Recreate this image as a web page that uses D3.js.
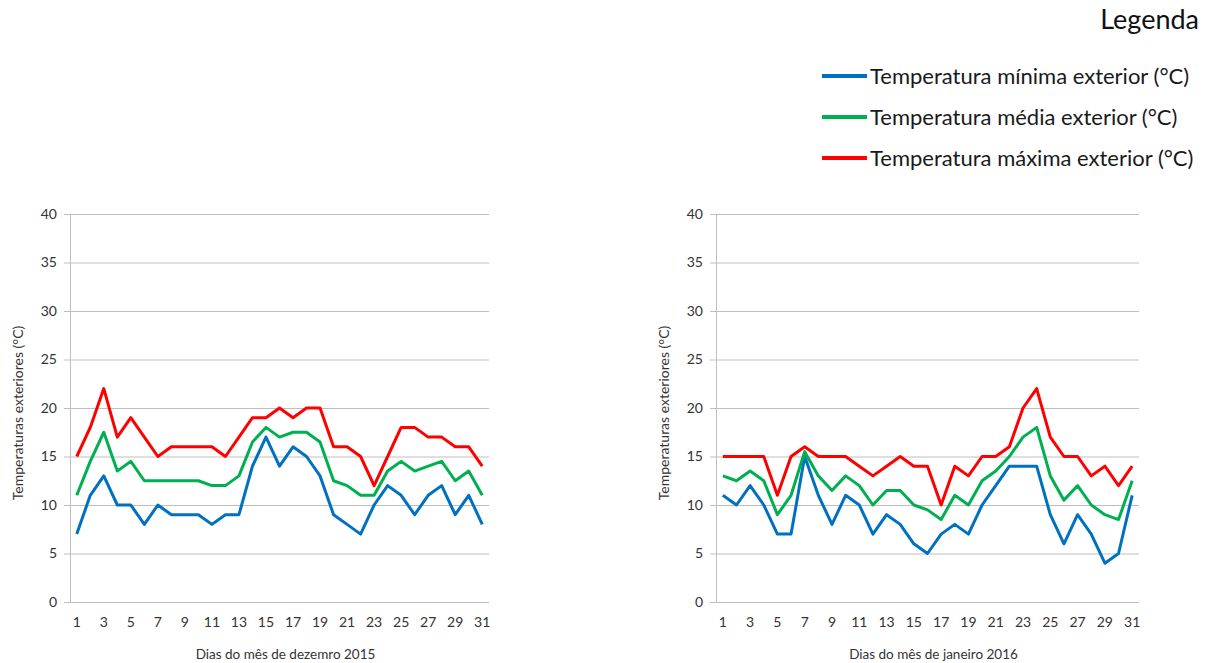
<!DOCTYPE html>
<html><head><meta charset="utf-8">
<script src="https://cdn.jsdelivr.net/npm/d3@7"></script>
<style>body{margin:0;background:#fff}svg{display:block;font-family:Lato,"Open Sans",sans-serif}</style>
</head><body><svg id="c" width="1208" height="663"></svg>
<script>
const days = d3.range(1, 32);
const yTicks = [0, 5, 10, 15, 20, 25, 30, 35, 40];
const xTickLabels = [1,3,5,7,9,11,13,15,17,19,21,23,25,27,29,31];
const seriesNames = ["Temperatura mínima exterior (°C)", "Temperatura média exterior (°C)", "Temperatura máxima exterior (°C)"];
const seriesColors = ["#0070C0", "#00B050", "#FF0000"];

const decMin = [7,11,13,10,10,8,10,9,9,9,8,9,9,14,17,14,16,15,13,9,8,7,10,12,11,9,11,12,9,11,8];
const decAvg = [11,14.5,17.5,13.5,14.5,12.5,12.5,12.5,12.5,12.5,12,12,13,16.5,18,17,17.5,17.5,16.5,12.5,12,11,11,13.5,14.5,13.5,14,14.5,12.5,13.5,11];
const decMax = [15,18,22,17,19,17,15,16,16,16,16,15,17,19,19,20,19,20,20,16,16,15,12,15,18,18,17,17,16,16,14];

const janMin = [11,10,12,10,7,7,15,11,8,11,10,7,9,8,6,5,7,8,7,10,12,14,14,14,9,6,9,7,4,5,11];
const janAvg = [13,12.5,13.5,12.5,9,11,15.5,13,11.5,13,12,10,11.5,11.5,10,9.5,8.5,11,10,12.5,13.5,15,17,18,13,10.5,12,10,9,8.5,12.5];
const janMax = [15,15,15,15,11,15,16,15,15,15,14,13,14,15,14,14,10,14,13,15,15,16,20,22,17,15,15,13,14,12,14];

const yLabel = "Temperaturas exteriores (°C)";
const charts = [
  {x0: 70, x1: 489, title: "Dias do mês de dezemro 2015", data: [decMin, decAvg, decMax]},
  {x0: 716, x1: 1139, title: "Dias do mês de janeiro 2016", data: [janMin, janAvg, janMax]}
];

const svg = d3.select("#c");
const yTop = 214, yBot = 602;
const y = d3.scaleLinear().domain([0, 40]).range([yBot, yTop]);

charts.forEach(c => {
  const g = svg.append("g");
  const x = d3.scalePoint().domain(days).range([c.x0, c.x1]).padding(0.5);
  g.selectAll("line.grid").data(yTicks).join("line")
    .attr("x1", c.x0 - 6).attr("x2", c.x1)
    .attr("y1", d => y(d) + 0.5).attr("y2", d => y(d) + 0.5)
    .attr("stroke", "#bfbfbf").attr("stroke-width", 1);
  g.append("line").attr("x1", c.x0 + 0.5).attr("x2", c.x0 + 0.5)
    .attr("y1", yTop).attr("y2", yBot + 0.5).attr("stroke", "#bfbfbf");
  g.selectAll("text.yt").data(yTicks).join("text")
    .attr("x", c.x0 - 13).attr("y", d => y(d)).attr("dy", "0.35em")
    .attr("text-anchor", "end").attr("font-size", 14).attr("fill", "#333")
    .text(d => d);
  g.selectAll("text.xt").data(xTickLabels).join("text")
    .attr("x", d => x(d)).attr("y", 622).attr("dy", "0.35em")
    .attr("text-anchor", "middle").attr("font-size", 14).attr("fill", "#333")
    .text(d => d);
  g.append("text").attr("x", (c.x0 + c.x1) / 2 + 6).attr("y", 654).attr("dy", "0.35em")
    .attr("text-anchor", "middle").attr("font-size", 13.5).attr("fill", "#333").text(c.title);
  g.append("text").attr("transform", `translate(${c.x0 - 52},${(yTop + yBot) / 2 + 5}) rotate(-90)`)
    .attr("dy", "0.35em").attr("text-anchor", "middle").attr("font-size", 14).attr("fill", "#333").text(yLabel);
  const line = d3.line().x((d, i) => x(days[i])).y(d => y(d));
  c.data.forEach((s, k) => {
    g.append("path").datum(s).attr("d", line).attr("fill", "none")
      .attr("stroke", seriesColors[k]).attr("stroke-width", 3).attr("stroke-linejoin", "round");
  });
});

svg.append("text").attr("x", 1199).attr("y", 20).attr("dy", "0.35em").attr("text-anchor", "end")
  .attr("font-size", 27).attr("fill", "#111").text("Legenda");
const lg = svg.append("g");
seriesNames.forEach((n, i) => {
  const yy = 76 + i * 41;
  lg.append("line").attr("x1", 822).attr("x2", 867).attr("y1", yy).attr("y2", yy)
    .attr("stroke", seriesColors[i]).attr("stroke-width", 4);
  lg.append("text").attr("x", 870).attr("y", yy).attr("dy", "0.35em").attr("font-size", 22)
    .attr("fill", "#1a1a1a").text(n);
});
</script></body></html>
